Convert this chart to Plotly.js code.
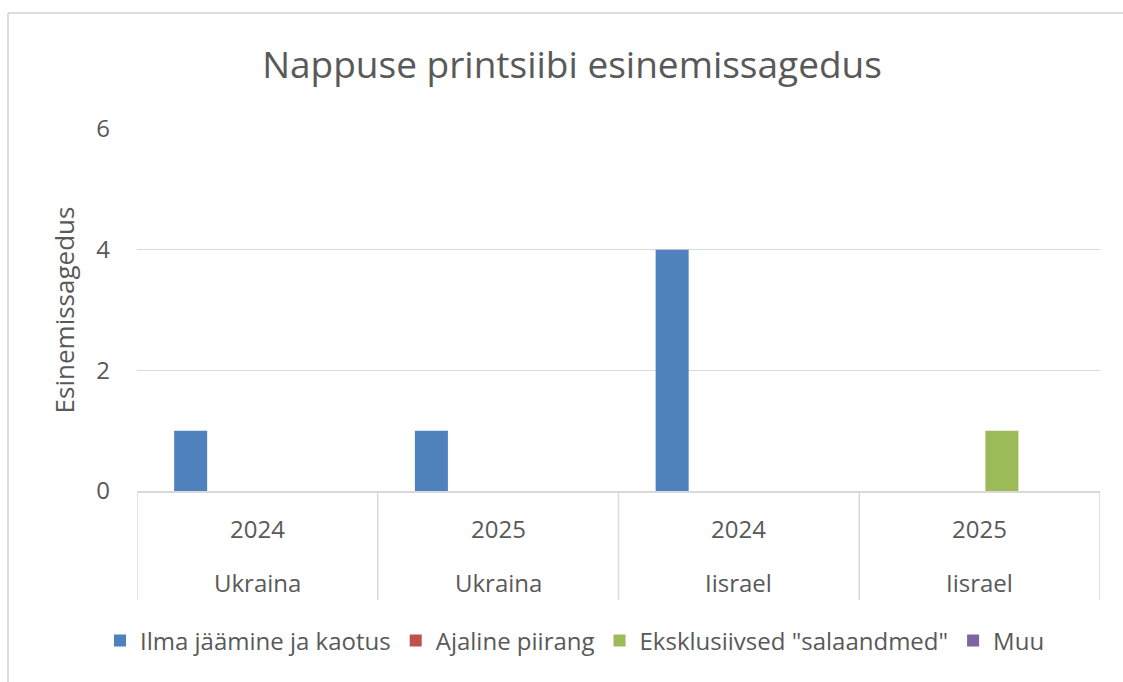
<!DOCTYPE html>
<html>
<head>
<meta charset="utf-8">
<script src="https://cdn.plot.ly/plotly-3.0.1.min.js"></script>
<style>
html,body{margin:0;padding:0;background:#fff;}
#chart{width:1123px;height:682px;}
</style>
</head>
<body>
<div id="chart"></div>
<script>
// Data
const years = ["2024", "2025", "2024", "2025"];
const countries = ["Ukraina", "Ukraina", "Iisrael", "Iisrael"];
const seriesNames = ["Ilma jäämine ja kaotus", "Ajaline piirang", "Eksklusiivsed \"salaandmed\"", "Muu"];
const ilmaJaamine = [1, 1, 4, 0];
const ajalinePiirang = [0, 0, 0, 0];
const eksklusiivsed = [0, 0, 0, 1];
const muu = [0, 0, 0, 0];
const yTicks = [0, 2, 4, 6];

const colors = ["#4f81bd", "#c0504d", "#9bbb59", "#8064a2"];
const seriesValues = [ilmaJaamine, ajalinePiirang, eksklusiivsed, muu];
const catIdx = years.map((_, i) => i);

const W = 1123, H = 682;
const L = 137, R = 23, T = 129, B = 191;
const plotW = W - L - R, plotH = H - T - B;
const py = px => (H - B - px) / plotH; // pixel y -> paper y
const pxX = px => (px - L) / plotW;

const textColor = "#595959";
const fontFam = "'Open Sans', sans-serif";

const traces = seriesNames.map((name, s) => ({
  type: "bar",
  name: name,
  x: catIdx,
  y: seriesValues[s],
  marker: {color: colors[s], line: {width: 0}},
  hoverinfo: "y+name"
}));

const annotations = [];
catIdx.forEach(i => {
  annotations.push({x: i, xref: "x", y: py(528), yref: "paper", text: years[i],
    showarrow: false, font: {family: fontFam, size: 24, color: textColor}, yanchor: "middle"});
  annotations.push({x: i, xref: "x", y: py(582), yref: "paper", text: countries[i],
    showarrow: false, font: {family: fontFam, size: 24, color: textColor}, yanchor: "middle"});
});

const shapes = [];
for (let k = 0; k <= catIdx.length; k++) {
  shapes.push({type: "line", xref: "x", yref: "paper", x0: k - 0.5, x1: k - 0.5,
    y0: 0, y1: py(600), line: {color: "#d9d9d9", width: 1.5}});
}
// outer chart frame (top and left edges visible)
shapes.push({type: "line", xref: "paper", yref: "paper", x0: pxX(8), x1: pxX(1130), y0: py(13), y1: py(13), line: {color: "#dcdcdc", width: 2}});
shapes.push({type: "line", xref: "paper", yref: "paper", x0: pxX(8), x1: pxX(8), y0: py(13), y1: py(690), line: {color: "#dcdcdc", width: 2}});

const layout = {
  width: W, height: H,
  margin: {l: L, r: R, t: T, b: B, pad: 0},
  paper_bgcolor: "#ffffff", plot_bgcolor: "#ffffff",
  title: {text: "Nappuse printsiibi esinemissagedus", xref: "container", x: 572 / W, xanchor: "center",
    yref: "container", y: 1 - 65 / H, yanchor: "middle",
    font: {family: fontFam, size: 37, color: textColor}},
  barmode: "group",
  bargap: 0.261,
  bargroupgap: 0.258,
  xaxis: {range: [-0.5, 3.5], showticklabels: false, showgrid: false, zeroline: false,
    showline: true, linecolor: "#d9d9d9", linewidth: 1.5, ticks: "", fixedrange: true},
  yaxis: {range: [0, 6], tickvals: yTicks, ticktext: yTicks.map(String), showgrid: true,
    gridcolor: "#d9d9d9", gridwidth: 1.5, zeroline: false, showline: false, ticks: "",
    ticklen: 0, ticklabelstandoff: 26, tickfont: {family: fontFam, size: 24, color: textColor},
    title: {text: "Esinemissagedus", standoff: 14, font: {family: fontFam, size: 26, color: textColor}},
    automargin: false},
  showlegend: true,
  legend: {orientation: "h", x: pxX(575), xanchor: "center", y: py(641), yanchor: "middle",
    font: {family: fontFam, size: 24, color: textColor}, traceorder: "normal", itemwidth: 30},
  annotations: annotations,
  shapes: shapes
};

Plotly.newPlot("chart", traces, layout, {displayModeBar: false, staticPlot: true});
</script>
</body>
</html>
